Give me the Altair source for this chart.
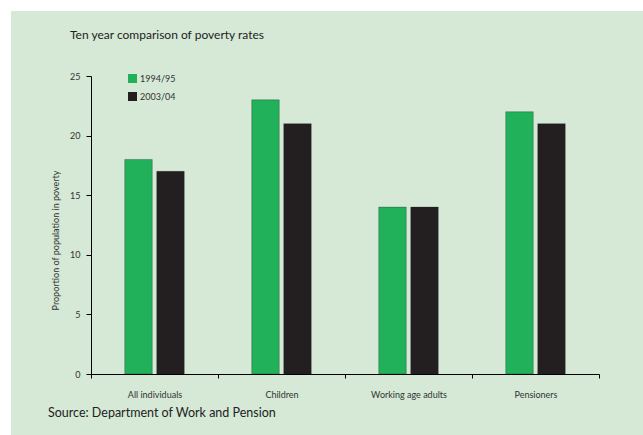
import altair as alt
import pandas as pd

categories = ["All individuals", "Children", "Working age adults", "Pensioners"]
years = ["1994/95", "2003/04"]
values_1994 = [18, 23, 14, 22]
values_2003 = [17, 21, 14, 21]
y_ticks = [0, 5, 10, 15, 20, 25]

rows = []
for c, a, b in zip(categories, values_1994, values_2003):
    rows.append({"category": c, "year": years[0], "value": a})
    rows.append({"category": c, "year": years[1], "value": b})
df = pd.DataFrame(rows)

FONT = "Lato"
BG = "#d5e9d6"
W, H = 508, 298
L, T = 91, 76

bg = alt.Chart(pd.DataFrame({"a": [0]})).mark_rect(fill=BG).encode(
    x=alt.value(11 - L), x2=alt.value(643 - L),
    y=alt.value(11 - T), y2=alt.value(435 - T),
)

bars = alt.Chart(df).mark_bar(stroke="#231f20", strokeWidth=0.3).encode(
    x=alt.X("category:N", sort=categories,
            scale=alt.Scale(paddingInner=0, paddingOuter=0),
            axis=alt.Axis(title=None, labelAngle=0, tickBand="extent", zindex=2,
                          labelFontSize=9, labelColor="#333333", labelFont=FONT,
                          domainColor="#000000", tickColor="#000000",
                          tickSize=4, labelPadding=12, domainWidth=1)),
    xOffset=alt.XOffset("year:N",
                        scale=alt.Scale(domain=["_a"] + years + ["_b"],
                                        paddingInner=0.14, paddingOuter=0.055)),
    y=alt.Y("value:Q", scale=alt.Scale(domain=[0, 25], nice=False),
            axis=alt.Axis(values=y_ticks, grid=False, title="Proportion of population in poverty",
                          zindex=2, titleY=164,
                          titleFontSize=9, titleFont=FONT, titleFontWeight="normal",
                          titleColor="#333333", titlePadding=9,
                          labelFontSize=9, labelColor="#333333", labelFont=FONT,
                          domainColor="#000000", tickColor="#000000",
                          tickSize=5, labelPadding=6, domainWidth=1)),
    color=alt.Color("year:N", sort=years,
                    scale=alt.Scale(domain=years, range=["#21b15a", "#231f20"]),
                    legend=alt.Legend(title=None, orient="none", legendX=37, legendY=-2,
                                      symbolType="square", symbolSize=81,
                                      symbolStrokeWidth=0, labelFontSize=9,
                                      labelFont=FONT, labelColor="#333333",
                                      rowPadding=8, padding=0, labelOffset=3)),
)

title = alt.Chart(pd.DataFrame({"t": ["Ten year comparison of poverty rates"]})).mark_text(
    align="left", baseline="middle", fontSize=12, font=FONT, color="#222222"
).encode(x=alt.value(70 - L), y=alt.value(35 - T), text="t:N")

source = alt.Chart(pd.DataFrame({"t": ["Source: Department of Work and Pension"]})).mark_text(
    align="left", baseline="middle", fontSize=12.5, font=FONT, color="#222222"
).encode(x=alt.value(48 - L), y=alt.value(413 - T), text="t:N")

chart = alt.layer(bg, bars, title, source).properties(
    width=W, height=H,
    autosize=alt.AutoSizeParams(type="none"),
    padding={"left": L, "top": T, "right": 643 - L - W, "bottom": 435 - T - H},
    background="white",
).configure_view(stroke=None)

chart.save("out.html", embed_options={"renderer": "svg", "actions": False})
